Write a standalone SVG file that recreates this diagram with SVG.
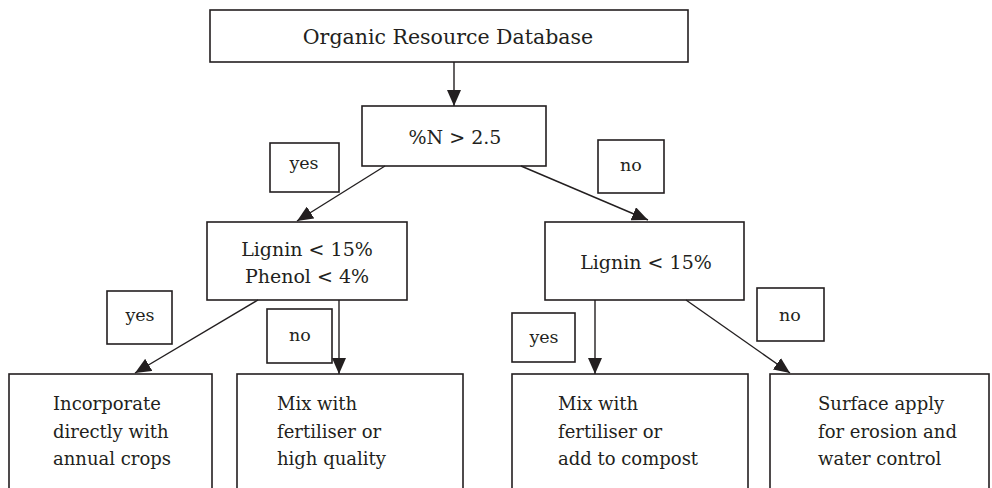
<svg xmlns="http://www.w3.org/2000/svg" width="992" height="488" viewBox="0 0 992 488">
<style>
.box{fill:#fff;stroke:#231f20;stroke-width:1.6}
.t{font-family:'DejaVu Serif',serif;fill:#231f20}
.c{text-anchor:middle}
.big{font-size:20.5px}
.mid{font-size:19px}
.lab{font-size:17.5px}
.bt{font-size:18px}
.con line{stroke:#231f20;stroke-width:1.4;marker-end:url(#ah)}
</style>
<defs>
<marker id="ah" markerUnits="userSpaceOnUse" markerWidth="16" markerHeight="14" viewBox="0 0 16 14" refX="16" refY="7" orient="auto">
<path d="M0,0 L16,7 L0,14 Z" fill="#231f20"/>
</marker>
</defs>
<g id="n-db"><rect class="box" x="210" y="10" width="478" height="52"/><text class="t c big" x="448" y="44">Organic Resource Database</text></g>
<g id="n-n"><rect class="box" x="362" y="106" width="184" height="60"/><text class="t c mid" x="455" y="144">%N &gt; 2.5</text></g>
<g id="l-yes1"><rect class="box" x="270" y="143" width="69" height="49"/><text class="t c lab" x="304" y="169">yes</text></g>
<g id="l-no1"><rect class="box" x="598" y="140" width="66" height="53"/><text class="t c lab" x="631" y="171">no</text></g>
<g id="n-lp"><rect class="box" x="207" y="222" width="200" height="78"/><text class="t c mid" x="307" y="256">Lignin &lt; 15%</text><text class="t c mid" x="307" y="283">Phenol &lt; 4%</text></g>
<g id="n-l"><rect class="box" x="545" y="222" width="199" height="78"/><text class="t c mid" x="646" y="269">Lignin &lt; 15%</text></g>
<g id="l-yes2"><rect class="box" x="107" y="291" width="65" height="53"/><text class="t c lab" x="140" y="321">yes</text></g>
<g id="l-no2"><rect class="box" x="267" y="309" width="65" height="54"/><text class="t c lab" x="300" y="341">no</text></g>
<g id="l-yes3"><rect class="box" x="512" y="313" width="63" height="49"/><text class="t c lab" x="544" y="343">yes</text></g>
<g id="l-no3"><rect class="box" x="757" y="288" width="67" height="53"/><text class="t c lab" x="790" y="321">no</text></g>
<g id="n-inc"><rect class="box" x="9" y="374" width="203" height="130"/><text class="t bt" x="53" y="410">Incorporate</text><text class="t bt" x="53" y="438">directly with</text><text class="t bt" x="53" y="465">annual crops</text></g>
<g id="n-mix1"><rect class="box" x="237" y="374" width="226" height="130"/><text class="t bt" x="277" y="410">Mix with</text><text class="t bt" x="277" y="438">fertiliser or</text><text class="t bt" x="277" y="465">high quality</text></g>
<g id="n-mix2"><rect class="box" x="512" y="374" width="236" height="130"/><text class="t bt" x="558" y="410">Mix with</text><text class="t bt" x="558" y="438">fertiliser or</text><text class="t bt" x="558" y="465">add to compost</text></g>
<g id="n-surf"><rect class="box" x="770" y="374" width="219" height="130"/><text class="t bt" x="818" y="410">Surface apply</text><text class="t bt" x="818" y="438">for erosion and</text><text class="t bt" x="818" y="465">water control</text></g>
<g id="connectors" class="con">
<line x1="454" y1="62" x2="454" y2="106"/>
<line x1="385" y1="166" x2="297" y2="221"/>
<line x1="521" y1="166" x2="648" y2="220"/>
<line x1="258" y1="300" x2="135" y2="373"/>
<line x1="339" y1="300" x2="339" y2="374"/>
<line x1="595" y1="300" x2="595" y2="374"/>
<line x1="686" y1="300" x2="790" y2="373"/>
</g>
</svg>
